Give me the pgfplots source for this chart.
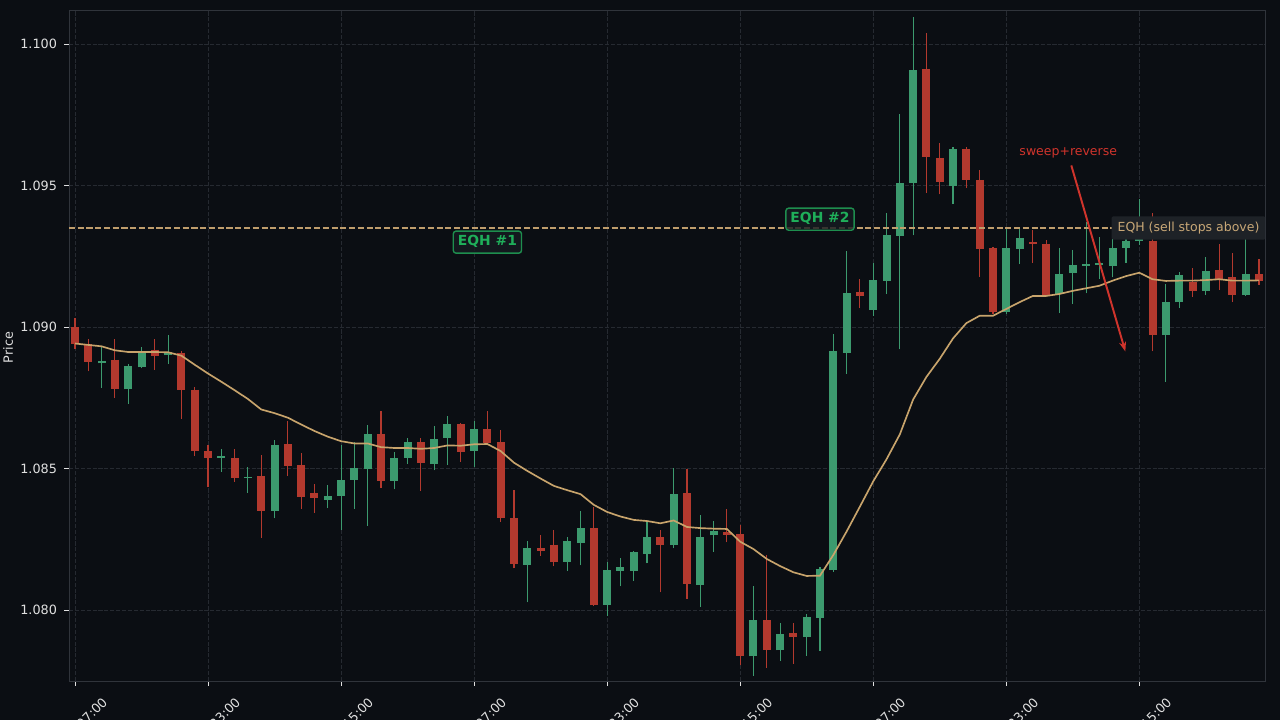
\documentclass[border=0pt]{standalone}
\usepackage{fontspec}
\setmainfont{DejaVu Sans}
\usepackage{pgfplots}
\usepackage{pgfplotstable}
\pgfplotsset{compat=1.18}
\usetikzlibrary{arrows.meta}

\definecolor{bg}{HTML}{0B0E13}
\definecolor{gridcol}{HTML}{262A31}
\definecolor{spine}{HTML}{30343B}
\definecolor{ticklab}{HTML}{E0E0E0}
\definecolor{upcol}{HTML}{3C9A6E}
\definecolor{downcol}{HTML}{B3392E}
\definecolor{emacol}{HTML}{C8A46C}
\definecolor{eqhline}{HTML}{BF9D6C}
\definecolor{eqhtext}{HTML}{1FAF5A}
\definecolor{eqhborder}{HTML}{1E8E4E}
\definecolor{eqhfill}{HTML}{161C21}
\definecolor{boxfill}{HTML}{1E2227}
\definecolor{boxtext}{HTML}{C9A877}
\definecolor{sweepred}{HTML}{D0342C}

% 4h candles: index, open, high, low, close
\pgfplotstableread{
i o h l c
2 1.08872 1.08932 1.08785 1.08881
4 1.08780 1.08870 1.08729 1.08864
5 1.08858 1.08931 1.08854 1.08913
7 1.08900 1.08973 1.08870 1.08913
11 1.08537 1.08570 1.08489 1.08543
13 1.08467 1.08507 1.08415 1.08472
15 1.08351 1.08600 1.08324 1.08582
19 1.08390 1.08444 1.08361 1.08403
20 1.08404 1.08585 1.08283 1.08459
21 1.08460 1.08595 1.08359 1.08501
22 1.08499 1.08653 1.08298 1.08624
24 1.08457 1.08560 1.08427 1.08539
25 1.08538 1.08609 1.08518 1.08593
27 1.08516 1.08650 1.08494 1.08606
28 1.08608 1.08685 1.08514 1.08656
30 1.08562 1.08668 1.08507 1.08639
34 1.08161 1.08243 1.08028 1.08218
37 1.08171 1.08257 1.08140 1.08243
38 1.08238 1.08352 1.08158 1.08290
40 1.08020 1.08171 1.07981 1.08142
41 1.08140 1.08183 1.08084 1.08152
42 1.08140 1.08209 1.08104 1.08205
43 1.08199 1.08310 1.08165 1.08258
45 1.08231 1.08504 1.08218 1.08410
47 1.08089 1.08336 1.08012 1.08259
48 1.08264 1.08314 1.08207 1.08280
51 1.07837 1.08087 1.07768 1.07965
53 1.07858 1.07956 1.07820 1.07915
55 1.07905 1.07988 1.07839 1.07975
56 1.07973 1.08154 1.07856 1.08145
57 1.08142 1.08975 1.08135 1.08915
58 1.08909 1.09269 1.08836 1.09120
60 1.09062 1.09225 1.09039 1.09166
61 1.09164 1.09402 1.09116 1.09326
62 1.09323 1.09752 1.08921 1.09510
63 1.09510 1.10096 1.09324 1.09909
66 1.09500 1.09636 1.09434 1.09630
70 1.09052 1.09349 1.09046 1.09280
71 1.09276 1.09348 1.09222 1.09316
74 1.09117 1.09281 1.09049 1.09187
75 1.09190 1.09272 1.09081 1.09218
76 1.09217 1.09371 1.09119 1.09222
77 1.09221 1.09318 1.09170 1.09228
78 1.09217 1.09365 1.09176 1.09281
79 1.09280 1.09320 1.09228 1.09304
80 1.09304 1.09453 1.09290 1.09335
82 1.08973 1.09152 1.08807 1.09088
83 1.09087 1.09196 1.09067 1.09184
85 1.09129 1.09246 1.09114 1.09199
88 1.09114 1.09310 1.09110 1.09187
}\upcandles

\pgfplotstableread{
i o h l c
0 1.09000 1.09032 1.08923 1.08939
1 1.08940 1.08958 1.08844 1.08876
3 1.08885 1.08958 1.08750 1.08780
6 1.08920 1.08959 1.08849 1.08897
8 1.08910 1.08915 1.08676 1.08777
9 1.08779 1.08789 1.08544 1.08562
10 1.08561 1.08583 1.08436 1.08537
12 1.08536 1.08570 1.08454 1.08467
14 1.08473 1.08547 1.08256 1.08351
16 1.08586 1.08668 1.08474 1.08509
17 1.08512 1.08556 1.08359 1.08400
18 1.08413 1.08447 1.08345 1.08396
23 1.08624 1.08703 1.08433 1.08457
26 1.08593 1.08609 1.08421 1.08520
29 1.08656 1.08660 1.08525 1.08559
31 1.08639 1.08703 1.08588 1.08590
32 1.08593 1.08636 1.08313 1.08326
33 1.08325 1.08426 1.08148 1.08164
35 1.08218 1.08264 1.08192 1.08210
36 1.08232 1.08285 1.08155 1.08171
39 1.08290 1.08363 1.08016 1.08020
44 1.08258 1.08283 1.08063 1.08231
46 1.08413 1.08500 1.08040 1.08092
49 1.08278 1.08357 1.08240 1.08267
50 1.08270 1.08300 1.07805 1.07840
52 1.07965 1.08195 1.07796 1.07858
54 1.07918 1.07956 1.07811 1.07905
59 1.09124 1.09169 1.09066 1.09111
64 1.09913 1.10039 1.09473 1.09599
65 1.09598 1.09650 1.09469 1.09514
67 1.09630 1.09636 1.09491 1.09518
68 1.09520 1.09554 1.09178 1.09277
69 1.09280 1.09283 1.09046 1.09052
72 1.09300 1.09342 1.09228 1.09294
73 1.09295 1.09307 1.09110 1.09114
81 1.09304 1.09402 1.08914 1.08973
84 1.09158 1.09210 1.09108 1.09129
86 1.09201 1.09292 1.09131 1.09167
87 1.09176 1.09262 1.09088 1.09114
89 1.09187 1.09239 1.09150 1.09164
}\downcandles

\tikzset{
  eqhbox/.style={draw=eqhborder, line width=1pt, fill=eqhfill, fill opacity=0.8,
    text opacity=1, rounded corners=2pt, text=eqhtext,
    font=\bfseries\fontsize{10}{12}\selectfont,
    inner xsep=3.3pt, inner ysep=3.3pt, text height=7.3pt, text depth=2pt},
}

\begin{document}
\begin{tikzpicture}
\useasboundingbox (0pt,0pt) rectangle (921.6pt,518.4pt);
\fill[bg] (0pt,0pt) rectangle (921.6pt,518.4pt);
\begin{axis}[
    at={(49.68pt,28.08pt)}, anchor=south west,
    width=861.12pt, height=483.12pt, scale only axis,
    xmin=-0.45, xmax=89.45, ymin=1.0775, ymax=1.1012,
    xtick={0,10,20,30,40,50,60,70,80},
    xticklabels={07:00,23:00,15:00,07:00,23:00,15:00,07:00,23:00,15:00},
    ytick={1.080,1.085,1.090,1.095,1.100},
    scaled y ticks=false,
    yticklabel style={/pgf/number format/fixed, /pgf/number format/fixed zerofill,
      /pgf/number format/precision=3},
    /pgf/number format/assume math mode=true,
    tick label style={font=\fontsize{9.2}{11}\selectfont, color=ticklab},
    xticklabel style={xshift=21.6pt, yshift=-10.1pt, rotate=45, anchor=east, inner sep=0pt},
    yticklabel style={anchor=east, inner sep=0pt, xshift=-5pt},
    tick align=outside, tick pos=left, major tick length=3.5pt,
    tick style={color=ticklab, line width=0.6pt},
    axis line style={spine, line width=0.6pt},
    grid=major,
    major grid style={gridcol, line width=0.6pt, dash pattern=on 2.96pt off 1.28pt},
    ylabel={Price},
    every axis y label/.style={at={(axis description cs:-0.0510,0.497)}, rotate=90,
      anchor=center, font=\fontsize{9.2}{11}\selectfont, color=ticklab},
]
% wicks
\addplot[upcol, line width=0.8pt, quiver={u=0, v=\thisrow{h}-\thisrow{l}}]
  table[x=i, y=l] {\upcandles};
\addplot[downcol, line width=0.8pt, quiver={u=0, v=\thisrow{h}-\thisrow{l}}]
  table[x=i, y=l] {\downcandles};
% bodies
\addplot[upcol, line width=5.76pt, quiver={u=0, v=\thisrow{c}-\thisrow{o}}]
  table[x=i, y=o] {\upcandles};
\addplot[downcol, line width=5.76pt, quiver={u=0, v=\thisrow{c}-\thisrow{o}}]
  table[x=i, y=o] {\downcandles};

% EMA
\addplot[emacol, line width=1.2pt] coordinates {
(0,1.08942) (1,1.08937) (2,1.08932) (3,1.08918) (4,1.08912) (5,1.08912)
(6,1.08912) (7,1.08911) (8,1.08899) (9,1.08867) (10,1.08836) (11,1.08807)
(12,1.08777) (13,1.08746) (14,1.08709) (15,1.08696) (16,1.08680) (17,1.08656)
(18,1.08633) (19,1.08613) (20,1.08597) (21,1.08589) (22,1.08589) (23,1.08576)
(24,1.08573) (25,1.08573) (26,1.08570) (27,1.08573) (28,1.08582) (29,1.08581)
(30,1.08586) (31,1.08587) (32,1.08562) (33,1.08521) (34,1.08492) (35,1.08465)
(36,1.08439) (37,1.08424) (38,1.08410) (39,1.08372) (40,1.08347) (41,1.08331)
(42,1.08319) (43,1.08315) (44,1.08307) (45,1.08317) (46,1.08294) (47,1.08290)
(48,1.08288) (49,1.08287) (50,1.08242) (51,1.08216) (52,1.08181) (53,1.08156)
(54,1.08134) (55,1.08121) (56,1.08122) (57,1.08195) (58,1.08278) (59,1.08366)
(60,1.08455) (61,1.08533) (62,1.08621) (63,1.08744) (64,1.08824) (65,1.08888)
(66,1.08960) (67,1.09014) (68,1.09040) (69,1.09040) (70,1.09064) (71,1.09088)
(72,1.09110) (73,1.09110) (74,1.09117) (75,1.09128) (76,1.09137) (77,1.09146)
(78,1.09164) (79,1.09180) (80,1.09192) (81,1.09169) (82,1.09163) (83,1.09164)
(84,1.09164) (85,1.09166) (86,1.09169) (87,1.09164) (88,1.09164) (89,1.09165)
};

% equal highs level
\addplot[eqhline, line width=1.1pt, dash pattern=on 4.4pt off 1.9pt]
  coordinates {(-0.45,1.0935) (89.45,1.0935)};

\node[eqhbox] at (axis cs:31,1.09300) {EQH \#1};
\node[eqhbox] at (axis cs:56,1.09381) {EQH \#2};

\node[fill=boxfill, text=boxtext, font=\fontsize{9}{11}\selectfont, rounded corners=1.5pt,
  inner xsep=4.4pt, inner ysep=3.9pt, text height=6.9pt, text depth=2.1pt, anchor=west]
  at (axis cs:77.89,1.0935) {EQH (sell stops above)};

\node[text=sweepred, font=\fontsize{9}{11}\selectfont] at (axis cs:74.66,1.09614) {sweep+reverse};
\draw[sweepred, line width=1.4pt, -{Stealth[length=7pt,width=5pt]}]
  (axis cs:74.89,1.09571) -- (axis cs:78.95,1.08914);
\end{axis}
\end{tikzpicture}
\end{document}
